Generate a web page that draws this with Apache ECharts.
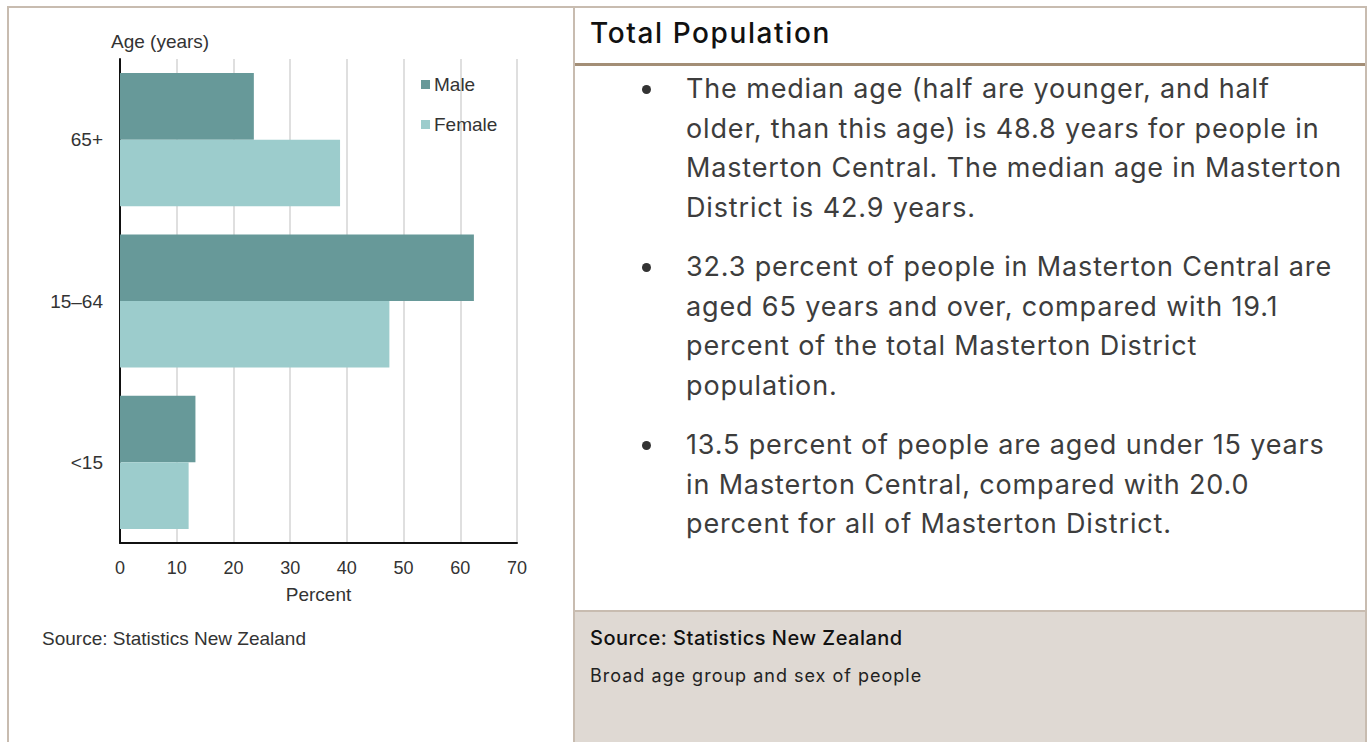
<!DOCTYPE html>
<html>
<head>
<meta charset="utf-8">
<script src="https://cdn.jsdelivr.net/npm/echarts/dist/echarts.min.js"></script>
<style>
  html, body { margin: 0; padding: 0; background: #ffffff; }
  body { width: 1368px; height: 742px; position: relative; overflow: hidden; }
  #frame { position: absolute; left: 7px; top: 6px; width: 1356px; height: 760px;
           border-left: 2px solid #c8bcb0; border-top: 2px solid #c8bcb0; border-right: 2px solid #c8bcb0; }
  #divider { position: absolute; left: 573px; top: 6px; width: 2px; height: 760px; background: #c8bcb0; }
  #chart { position: absolute; left: 0; top: 0; width: 573px; height: 742px; }
  #header { position: absolute; left: 590px; top: 16px; font-family: "Inter", sans-serif; font-size: 28px; font-weight: 500; letter-spacing: 1.6px; color: #111; white-space: nowrap; }
  #headline { position: absolute; left: 575px; top: 63px; width: 790px; height: 3px; background: #a38e76; }
  .para { position: absolute; left: 686px; font-family: "Inter", sans-serif; font-size: 27px; letter-spacing: 0.85px; line-height: 39.5px; color: #3d3d3d; white-space: nowrap; }
  .dot { position: absolute; left: 642px; width: 9px; height: 9px; border-radius: 50%; background: #333; }
  #grey { position: absolute; left: 575px; top: 610px; width: 790px; height: 140px; background: #dfd9d3; border-top: 2px solid #c8bcb0; }
  #src2 { position: absolute; left: 590px; top: 626px; font-family: "Inter", sans-serif; font-size: 20px; font-weight: 500; letter-spacing: 0.5px; color: #111; white-space: nowrap; }
  #sub2 { position: absolute; left: 590px; top: 665px; font-family: "Inter", sans-serif; font-size: 18px; letter-spacing: 1px; color: #222; white-space: nowrap; }
</style>
</head>
<body>
<div id="frame"></div>
<div id="divider"></div>
<div id="grey"></div>
<div id="chart"></div>
<div id="header">Total Population</div>
<div id="headline"></div>

<div class="dot" style="top:85px"></div>
<div class="para" style="top:69px">The median age (half are younger, and half<br>older, than this age) is 48.8 years for people in<br>Masterton Central. The median age in Masterton<br>District is 42.9 years.</div>

<div class="dot" style="top:263px"></div>
<div class="para" style="top:247px">32.3 percent of people in Masterton Central are<br>aged 65 years and over, compared with 19.1<br>percent of the total Masterton District<br>population.</div>

<div class="dot" style="top:441px"></div>
<div class="para" style="top:425px">13.5 percent of people are aged under 15 years<br>in Masterton Central, compared with 20.0<br>percent for all of Masterton District.</div>

<div id="src2">Source: Statistics New Zealand</div>
<div id="sub2">Broad age group and sex of people</div>

<script>
// ---- Data ----
const categories = ['65+', '15–64', '<15'];
const seriesNames = ['Male', 'Female'];
const maleValues = [23.6, 62.4, 13.3];
const femaleValues = [38.8, 47.5, 12.1];
const xMin = 0;
const xMax = 70;
const xInterval = 10;
const xAxisTitle = 'Percent';
const yAxisTitle = 'Age (years)';
const sourceText = 'Source: Statistics New Zealand';

// ---- Chart ----
const chart = echarts.init(document.getElementById('chart'), null, { renderer: 'svg' });
const FONT = '"Liberation Sans", Arial, sans-serif';
const TXT = '#333333';
chart.setOption({
  animation: false,
  backgroundColor: 'transparent',
  grid: { left: 120, right: 56, top: 59, bottom: 199, containLabel: false },
  legend: {
    data: seriesNames,
    orient: 'vertical',
    left: 416, top: 70,
    icon: 'rect', itemWidth: 9, itemHeight: 9, itemGap: 21,
    textStyle: { fontFamily: FONT, fontSize: 19, color: TXT, padding: [0, 0, 0, -1] }
  },
  xAxis: {
    type: 'value', min: xMin, max: xMax, interval: xInterval,
    name: xAxisTitle, nameLocation: 'middle', nameGap: 42,
    nameTextStyle: { fontFamily: FONT, fontSize: 19, color: TXT },
    axisLine: { show: true, lineStyle: { color: '#111', width: 2 } },
    axisTick: { show: false },
    axisLabel: { fontFamily: FONT, fontSize: 18, color: TXT, margin: 16 },
    splitLine: { show: true, lineStyle: { color: '#d4d4d4', width: 1.5 } }
  },
  yAxis: {
    type: 'category', data: categories, inverse: true,
    axisLine: { show: true, lineStyle: { color: '#111', width: 2 } },
    axisTick: { show: false },
    axisLabel: { fontFamily: FONT, fontSize: 19, color: TXT, margin: 17 }
  },
  graphic: [
    { type: 'text', left: 111, top: 32, style: { text: yAxisTitle, font: '19px "Liberation Sans", Arial, sans-serif', fill: TXT } },
    { type: 'text', left: 42, top: 629, style: { text: sourceText, font: '19px "Liberation Sans", Arial, sans-serif', fill: TXT } }
  ],
  series: [
    { name: seriesNames[0], type: 'bar', data: maleValues, barGap: '0%', barCategoryGap: '17.5%', itemStyle: { color: '#679999' } },
    { name: seriesNames[1], type: 'bar', data: femaleValues, barGap: '0%', barCategoryGap: '17.5%', itemStyle: { color: '#9ccccc' } }
  ]
});
</script>
</body>
</html>
